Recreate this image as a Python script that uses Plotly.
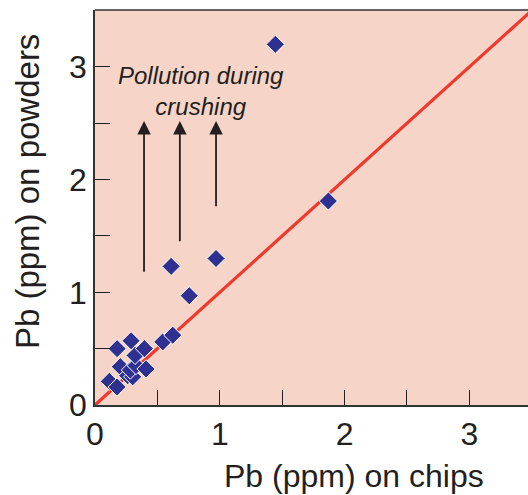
import plotly.graph_objects as go

# Pb concentration measured on rock chips vs. on crushed powders (ppm)
pb_chips = [0.115, 0.177, 0.177, 0.203, 0.262, 0.302, 0.283, 0.329, 0.409,
            0.321, 0.396, 0.289, 0.543, 0.623, 0.755, 0.61, 0.97, 1.87, 1.445]
pb_powders = [0.21, 0.16, 0.50, 0.34, 0.26, 0.25, 0.31, 0.35, 0.32,
              0.44, 0.50, 0.57, 0.56, 0.62, 0.97, 1.23, 1.30, 1.81, 3.20]

# 1:1 reference line
one_to_one = [0, 3.6]

# vertical "pollution" arrows: x position, tail y, head y
arrow_x = [0.393, 0.68, 0.97]
arrow_tail = [1.17, 1.44, 1.75]
arrow_head = [2.52, 2.52, 2.52]

x_range = [0, 3.47]
y_range = [0, 3.505]
major_ticks = [0, 1, 2, 3]

ink = "#231f20"
font = "Liberation Sans, Arial, sans-serif"

fig = go.Figure()

fig.add_trace(go.Scatter(
    x=one_to_one, y=one_to_one, mode="lines",
    line=dict(color="#ee3a2c", width=3.2),
    hoverinfo="skip", showlegend=False,
))

fig.add_trace(go.Scatter(
    x=pb_chips, y=pb_powders, mode="markers",
    marker=dict(symbol="diamond", size=14, color="#2e3192",
                line=dict(color="white", width=1)),
    showlegend=False,
))

annotations = []
for ax_, y0, y1 in zip(arrow_x, arrow_tail, arrow_head):
    annotations.append(dict(
        x=ax_, y=y1, ax=ax_, ay=y0, xref="x", yref="y", axref="x", ayref="y",
        text="", showarrow=True, arrowhead=2, arrowsize=1.5, arrowwidth=1.8,
        arrowcolor=ink,
    ))

annotations.append(dict(
    x=0.85, y=2.79, xref="x", yref="y", showarrow=False,
    text="<i>Pollution during<br>crushing</i>", align="center",
    font=dict(family=font, size=24, color=ink),
    xanchor="center", yanchor="middle",
))

annotations.append(dict(
    x=0.598, y=-0.18, xref="paper", yref="paper", showarrow=False,
    text="Pb (ppm) on chips", xanchor="center", yanchor="middle",
    font=dict(family=font, size=32, color=ink),
))
annotations.append(dict(
    x=-0.157, y=0.539, xref="paper", yref="paper", showarrow=False,
    text="Pb (ppm) on powders", textangle=-90,
    xanchor="center", yanchor="middle",
    font=dict(family=font, size=33, color=ink),
))

axis_common = dict(
    showgrid=False, zeroline=False, showline=True, linecolor="#333333",
    linewidth=1.5, ticks="inside", ticklen=15, tickwidth=1.2, tickcolor=ink,
    tickvals=major_ticks, tickfont=dict(family=font, size=32, color=ink),
    minor=dict(ticks="inside", ticklen=15, tickwidth=1.2, tickcolor=ink,
               dtick=0.5, tick0=0, showgrid=False),
)

fig.update_xaxes(range=x_range, mirror=False, **axis_common)
fig.update_yaxes(range=y_range, **axis_common)

fig.update_layout(
    width=528, height=495,
    margin=dict(l=95, r=0, t=10, b=90),
    paper_bgcolor="white", plot_bgcolor="#f7d4c8",
    annotations=annotations,
    shapes=[dict(type="line", xref="paper", yref="paper", x0=0, x1=1, y0=1, y1=1,
                 line=dict(color="#333333", width=1.5))],
)

fig.write_html("out.html")
